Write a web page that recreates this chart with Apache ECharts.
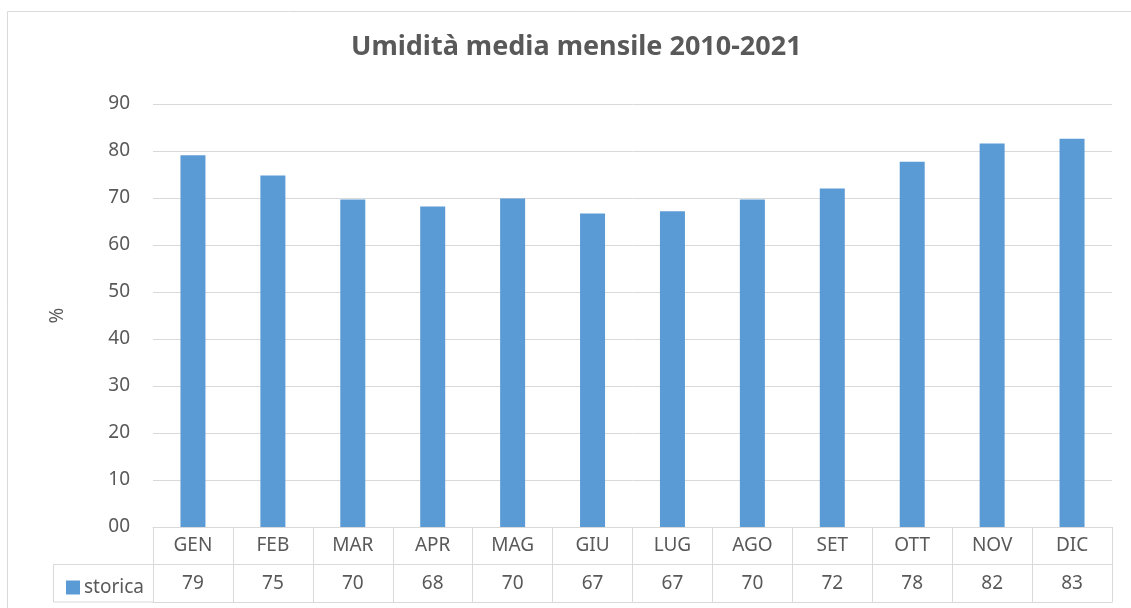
<!DOCTYPE html>
<html>
<head>
<meta charset="utf-8">
<script src="https://cdn.jsdelivr.net/npm/echarts@6/dist/echarts.min.js"></script>
<style>
  html, body { margin: 0; padding: 0; background: #fff; }
  #main { width: 1131px; height: 608px; }
</style>
</head>
<body>
<div id="main"></div>
<script>
  // dati
  var mesi = ['GEN', 'FEB', 'MAR', 'APR', 'MAG', 'GIU', 'LUG', 'AGO', 'SET', 'OTT', 'NOV', 'DIC'];
  var storica = [79.1, 74.8, 69.7, 68.2, 69.9, 66.7, 67.2, 69.7, 72.0, 77.7, 81.6, 82.6];
  var nomeSerie = 'storica';
  var titolo = 'Umidità media mensile 2010-2021';

  var grigio = '#D9D9D9';
  var testo = '#595959';
  var font = 'Noto Sans';

  var chart = echarts.init(document.getElementById('main'));
  chart.setOption({
    animation: false,
    textStyle: { fontFamily: font, color: testo },
    title: {
      text: titolo,
      left: 346,
      top: 29,
      textStyle: { fontFamily: font, fontSize: 27, fontWeight: 'bold', color: testo }
    },
    legend: {
      data: [nomeSerie],
      left: 61,
      top: 573,
      icon: 'rect',
      itemWidth: 14,
      itemHeight: 14,
      itemGap: 5,
      textStyle: { fontSize: 19, color: testo, fontFamily: font, padding: [0, 0, 0, -1] }
    },
    grid: { left: 153, right: 19, top: 104, bottom: 81 },
    xAxis: [{
      type: 'category',
      data: mesi,
      axisLine: { show: true, lineStyle: { color: grigio, width: 1 } },
      axisTick: { show: true, interval: 0, length: 75, lineStyle: { color: grigio, width: 1 } },
      axisLabel: {
        interval: 0,
        margin: 0,
        fontSize: 19,
        color: testo,
        lineHeight: 38,
        formatter: function (v, i) {
          return v + '\n' + Math.round(storica[i]);
        }
      }
    }, {
      type: 'category',
      data: mesi,
      position: 'bottom',
      offset: 37,
      axisLine: { show: true, lineStyle: { color: grigio, width: 1 } },
      axisTick: { show: false },
      axisLabel: { show: false }
    }, {
      type: 'category',
      data: mesi,
      position: 'bottom',
      offset: 75,
      axisLine: { show: true, lineStyle: { color: grigio, width: 1 } },
      axisTick: { show: false },
      axisLabel: { show: false }
    }],
    yAxis: {
      type: 'value',
      min: 0,
      max: 90,
      interval: 10,
      name: '%',
      nameLocation: 'middle',
      nameGap: 86,
      nameRotate: 90,
      nameTextStyle: { fontSize: 19, color: testo },
      axisLine: { show: false },
      axisTick: { show: false },
      splitLine: { lineStyle: { color: grigio, width: 1 } },
      axisLabel: {
        margin: 23,
        fontSize: 19,
        color: testo,
        formatter: function (v) { return String(v).padStart(2, '0'); }
      }
    },
    series: [{
      name: nomeSerie,
      type: 'bar',
      data: storica,
      barWidth: 25,
      itemStyle: { color: '#5B9BD5' }
    }],
    graphic: [{
      type: 'rect',
      shape: { x: 7.5, y: 11.5, width: 1140, height: 620 },
      style: { fill: null, stroke: grigio, lineWidth: 1 },
      silent: true
    }, {
      type: 'rect',
      shape: { x: 53.5, y: 564.5, width: 100, height: 37.5 },
      style: { fill: null, stroke: grigio, lineWidth: 1 },
      silent: true
    }]
  });
</script>
</body>
</html>
